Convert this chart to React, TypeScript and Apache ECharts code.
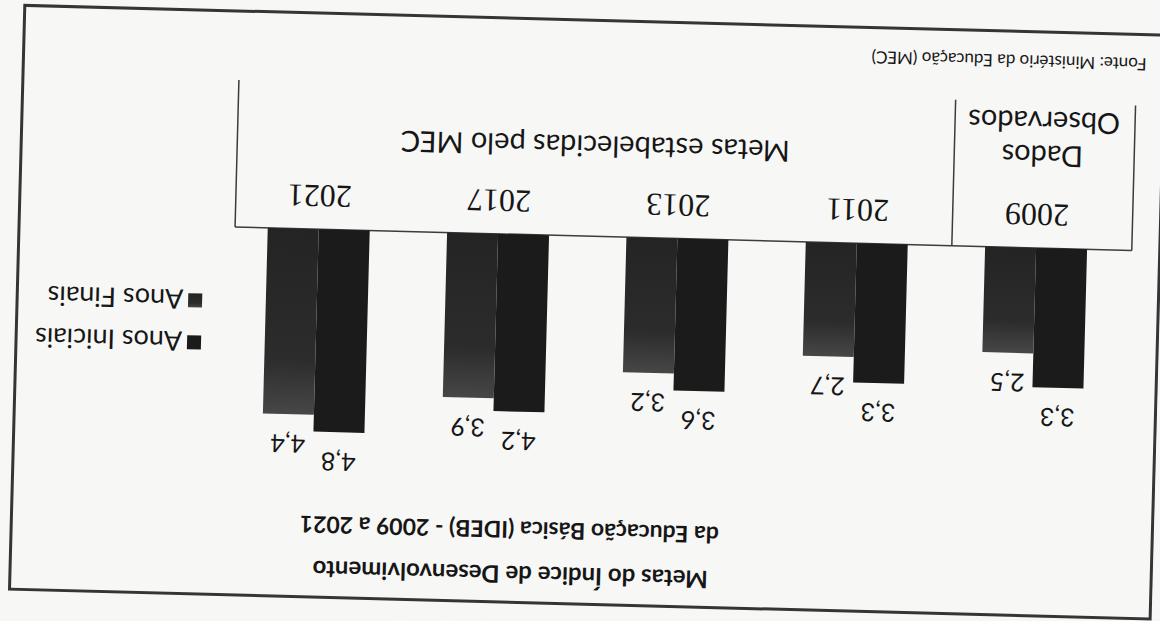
import React, { useEffect, useRef } from "react";
import * as echarts from "echarts";

const years = ["2009", "2011", "2013", "2017", "2021"];
const anosIniciais = [3.3, 3.3, 3.6, 4.2, 4.8];
const anosFinais = [2.5, 2.7, 3.2, 3.9, 4.4];
const seriesNames = ["Anos Iniciais", "Anos Finais"];
const titleLines = [
  "Metas do Índice de Desenvolvimento",
  "da Educação Básica (IDEB) - 2009 a 2021",
];
const tableHeaders = ["Dados", "Observados", "Metas estabelecidas pelo MEC"];
const sourceText = "Fonte: Ministério da Educação (MEC)";

const fmt = (v: number) => v.toFixed(1).replace(".", ",");

export default function App() {
  const ref = useRef<HTMLDivElement>(null);
  useEffect(() => {
    if (!ref.current) return;
    const chart = echarts.init(ref.current, undefined, { renderer: "svg" });
    const ink = "#161616";
    const lineColor = "#3c3c3c";
    const sans = "Lato, 'Open Sans', sans-serif";
    chart.setOption({
      animation: false,
      backgroundColor: "#f7f7f6",
      grid: { left: 36, right: 227, top: 174, bottom: 236 },
      legend: {
        orient: "vertical",
        left: 953,
        top: 250,
        itemWidth: 14,
        itemHeight: 14,
        itemGap: 15,
        icon: "rect",
        textStyle: { fontFamily: sans, fontSize: 27, color: ink },
        data: seriesNames,
      },
      xAxis: {
        type: "category",
        data: years,
        axisLine: { show: false },
        axisTick: { show: false },
        axisLabel: {
          show: true,
          margin: 17,
          fontFamily: "'Liberation Serif', 'DejaVu Serif', serif",
          fontSize: 32,
          color: ink,
        },
        splitLine: { show: false },
      },
      yAxis: {
        type: "value",
        min: 0,
        max: 5,
        show: false,
        splitLine: { show: false },
      },
      series: [
        {
          name: seriesNames[0],
          type: "bar",
          data: anosIniciais,
          barWidth: 51,
          barGap: "0%",
          itemStyle: { color: "#1b1b1b" },
          label: {
            show: true,
            position: "top",
            distance: 18,
            formatter: (p: any) => fmt(p.value),
            fontFamily: sans,
            fontSize: 25,
            color: ink,
          },
        },
        {
          name: seriesNames[1],
          type: "bar",
          data: anosFinais,
          barWidth: 51,
          barGap: "0%",
          itemStyle: {
            color: new echarts.graphic.LinearGradient(0, 0, 0, 1, [
              { offset: 0, color: "#474747" },
              { offset: 0.3, color: "#2c2c2c" },
              { offset: 1, color: "#242424" },
            ]),
          },
          label: {
            show: true,
            position: "top",
            distance: 18,
            formatter: (p: any) => fmt(p.value),
            fontFamily: sans,
            fontSize: 25,
            color: ink,
          },
        },
      ],
      graphic: [
        {
          type: "rect",
          shape: { x: 2, y: 17, width: 1141, height: 584 },
          style: { fill: "none", stroke: "#353535", lineWidth: 3 },
          silent: true,
        },
        {
          type: "line",
          shape: { x1: 30, y1: 385, x2: 927, y2: 385 },
          style: { stroke: lineColor, lineWidth: 1.5 },
        },
        {
          type: "line",
          shape: { x1: 30, y1: 385, x2: 30, y2: 530 },
          style: { stroke: lineColor, lineWidth: 1.5 },
        },
        {
          type: "line",
          shape: { x1: 210, y1: 385, x2: 210, y2: 531 },
          style: { stroke: lineColor, lineWidth: 1.5 },
        },
        {
          type: "line",
          shape: { x1: 927, y1: 385, x2: 927, y2: 532 },
          style: { stroke: lineColor, lineWidth: 1.5 },
        },
        {
          type: "text",
          x: 122,
          y: 476,
          style: {
            text: tableHeaders[0],
            fontFamily: sans,
            fontSize: 29,
            fill: ink,
            align: "center",
            verticalAlign: "middle",
            textAlign: "center",
            textVerticalAlign: "middle",
          },
        },
        {
          type: "text",
          x: 121,
          y: 510,
          style: {
            text: tableHeaders[1],
            fontFamily: sans,
            fontSize: 29,
            fill: ink,
            align: "center",
            verticalAlign: "middle",
            textAlign: "center",
            textVerticalAlign: "middle",
          },
        },
        {
          type: "text",
          x: 569,
          y: 474,
          style: {
            text: tableHeaders[2],
            fontFamily: sans,
            fontSize: 29,
            fill: ink,
            align: "center",
            verticalAlign: "middle",
            textAlign: "center",
            textVerticalAlign: "middle",
          },
        },
        {
          type: "text",
          x: 643,
          y: 44,
          style: {
            text: titleLines[0],
            fontFamily: sans,
            fontWeight: "bold",
            fontSize: 24,
            fill: ink,
            align: "center",
            verticalAlign: "middle",
            textAlign: "center",
            textVerticalAlign: "middle",
          },
        },
        {
          type: "text",
          x: 645,
          y: 89,
          style: {
            text: titleLines[1],
            fontFamily: sans,
            fontWeight: "bold",
            fontSize: 23,
            fill: ink,
            align: "center",
            verticalAlign: "middle",
            textAlign: "center",
            textVerticalAlign: "middle",
          },
        },
        {
          type: "text",
          x: 20,
          y: 571,
          style: {
            text: sourceText,
            fontFamily: sans,
            fontSize: 17,
            fill: ink,
            align: "left",
            verticalAlign: "middle",
            textAlign: "left",
            textVerticalAlign: "middle",
          },
        },
      ],
    });
    return () => chart.dispose();
  }, []);

  return (
    <div
      style={{
        position: "fixed",
        left: 0,
        top: 0,
        width: 1160,
        height: 621,
        overflow: "hidden",
        background: "#f7f7f6",
      }}
    >
      <div
        ref={ref}
        style={{
          position: "absolute",
          left: 0,
          top: 0,
          width: 1160,
          height: 621,
          transform: "rotate(181.5deg)",
          transformOrigin: "50% 50%",
        }}
      />
    </div>
  );
}
